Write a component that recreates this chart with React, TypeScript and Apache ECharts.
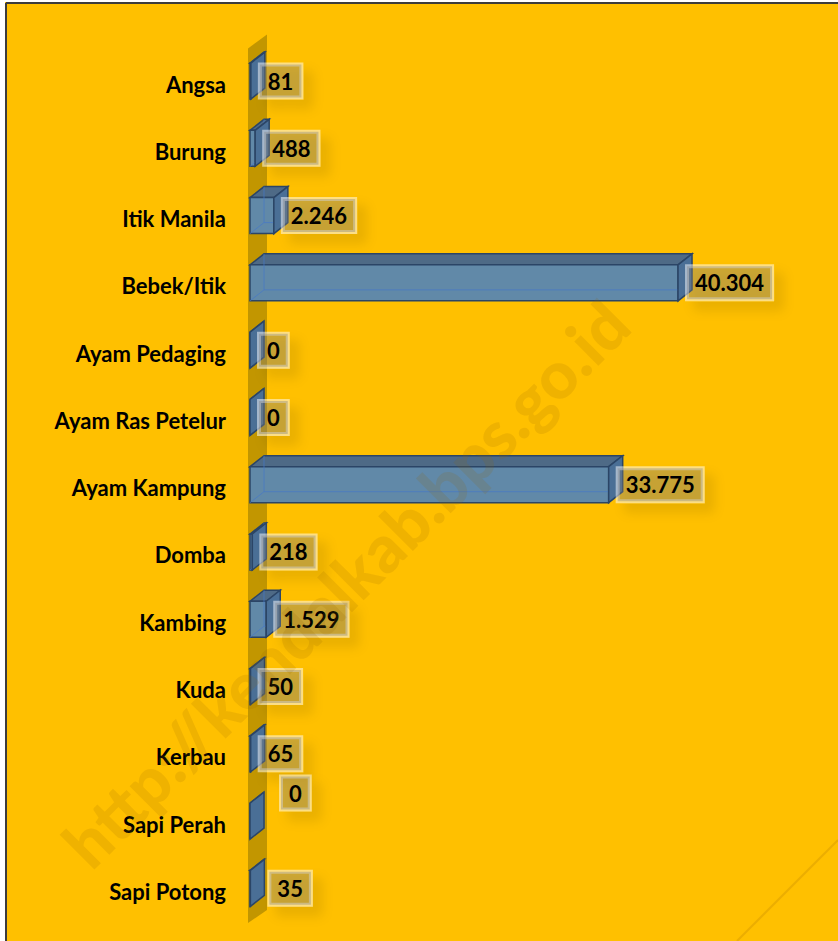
import React, { useEffect, useRef } from "react";
import * as echarts from "echarts";

const categories = [
  "Angsa",
  "Burung",
  "Itik Manila",
  "Bebek/Itik",
  "Ayam Pedaging",
  "Ayam Ras Petelur",
  "Ayam Kampung",
  "Domba",
  "Kambing",
  "Kuda",
  "Kerbau",
  "Sapi Perah",
  "Sapi Potong",
];
const values = [81, 488, 2246, 40304, 0, 0, 33775, 218, 1529, 50, 65, 0, 35];
const watermarkText = "http://kendalkab.bps.go.id";

// style-only nudges for labels that sit away from their bar
const labelNudge: Record<string, [number, number]> = {
  "Sapi Perah": [22, -28],
  "Sapi Potong": [10, 0],
};

const FONT = "Lato, 'Open Sans', sans-serif";

function fmt(v: number): string {
  return String(v).replace(/\B(?=(\d{3})+(?!\d))/g, ".");
}

export default function App() {
  const ref = useRef<HTMLDivElement>(null);
  useEffect(() => {
    if (!ref.current) return;
    const chart = echarts.init(ref.current, undefined, { renderer: "svg" });
    const DX = 14;
    const DY = -11;
    const option: any = {
      animation: false,
      backgroundColor: "#FFC000",
      grid: { left: 250, top: 50.4, width: 531, height: 874.6, containLabel: false },
      xAxis: { type: "value", min: 0, max: 50000, show: false },
      yAxis: {
        type: "category",
        inverse: true,
        data: categories,
        axisLine: { show: false },
        axisTick: { show: false },
        splitLine: { show: false },
        axisLabel: {
          color: "#000",
          fontWeight: "bold",
          fontSize: 22,
          fontFamily: FONT,
          margin: 24,
        },
      },
      series: [
        {
          type: "custom",
          z: 1,
          data: [[0, 0]],
          encode: { x: 0, y: 1 },
          renderItem: (params: any) => {
            const cs = params.coordSys;
            const fx = cs.x - 2;
            const bx = cs.x + 17;
            const top = cs.y;
            const bot = cs.y + cs.height;
            return {
              type: "polygon",
              shape: {
                points: [
                  [fx, top - 2],
                  [bx, top - 16],
                  [bx, bot - 15],
                  [fx, bot - 2],
                ],
              },
              style: { fill: "#C29600" },
            };
          },
        },
        {
          type: "custom",
          z: 2,
          data: values.map((v, i) => [v, i]),
          encode: { x: 0, y: 1 },
          renderItem: (params: any, api: any) => {
            const v = api.value(0);
            const idx = api.value(1);
            const p0 = api.coord([0, idx]);
            const p1 = api.coord([v, idx]);
            const x0 = p0[0];
            const x1 = p1[0];
            const yc = p0[1] - 3;
            const h = 36;
            const t = yc - h / 2;
            const b = yc + h / 2;
            const stroke = "#2B4566";
            const nudge = labelNudge[categories[idx]] || [0, 0];
            const children: any[] = [
              {
                type: "polygon",
                shape: { points: [[x0, t], [x0 + DX, t + DY], [x1 + DX, t + DY], [x1, t]] },
                style: { fill: "#4E6A86", stroke, lineWidth: 1.5 },
              },
              {
                type: "polygon",
                shape: { points: [[x0, t], [x1, t], [x1, b], [x0, b]] },
                style: { fill: "#6189A8", stroke, lineWidth: 1.5 },
              },
              {
                type: "line",
                shape: { x1: x0 + DX, y1: t + DY, x2: x0 + DX, y2: b + DY },
                style: { stroke: "rgba(70,120,200,0.7)", lineWidth: 1 },
              },
              {
                type: "polyline",
                shape: { points: [[x0, b], [x0 + DX, b + DY], [x1 + DX, b + DY]] },
                style: { stroke: "rgba(70,120,200,0.7)", lineWidth: 1, fill: null },
              },
              {
                type: "polygon",
                shape: { points: [[x1, t], [x1 + DX, t + DY], [x1 + DX, b + DY], [x1, b]] },
                style: { fill: "#4A6F96", stroke, lineWidth: 1.5 },
              },
              {
                type: "text",
                x: x1 + 9 + nudge[0],
                y: yc + nudge[1],
                z2: 10,
                style: {
                  text: fmt(v),
                  font: `bold 22px ${FONT}`,
                  fill: "#000",
                  align: "left",
                  textAlign: "left",
                  verticalAlign: "middle",
                  textVerticalAlign: "middle",
                  backgroundColor: "rgba(128,128,128,0.38)",
                  borderColor: "rgba(255,255,255,0.5)",
                  borderWidth: 2,
                  padding: [6, 8, 5, 8],
                  shadowBlur: 12,
                  shadowColor: "rgba(0,0,0,0.2)",
                  shadowOffsetX: 9,
                  shadowOffsetY: 9,
                },
              },
            ];
            return { type: "group", children };
          },
        },
      ],
      graphic: [
        { type: "rect", z: 50, shape: { x: 0, y: 0, width: 5, height: 941 }, style: { fill: "#fff" } },
        { type: "rect", z: 50, shape: { x: 0, y: 0, width: 838, height: 2 }, style: { fill: "#fff" } },
        { type: "line", z: 51, shape: { x1: 6, y1: 3, x2: 838, y2: 3 }, style: { stroke: "#3c3c3c", lineWidth: 2 } },
        { type: "line", z: 51, shape: { x1: 6, y1: 3, x2: 6, y2: 941 }, style: { stroke: "#3c3c3c", lineWidth: 2 } },
        { type: "line", z: 0, shape: { x1: 838, y1: 840, x2: 737, y2: 941 }, style: { stroke: "rgba(200,140,0,0.35)", lineWidth: 2 } },
        {
          type: "text",
          z: 100,
          x: 345,
          y: 583,
          rotation: Math.PI / 4,
          style: {
            text: watermarkText,
            font: `900 66px ${FONT}`,
            fill: "rgba(150,100,0,0.15)",
            align: "center",
            textAlign: "center",
            verticalAlign: "middle",
            textVerticalAlign: "middle",
          },
        },
      ],
    };
    chart.setOption(option);
    return () => chart.dispose();
  }, []);
  return (
    <div
      ref={ref}
      style={{ position: "absolute", left: 0, top: 0, width: 838, height: 941 }}
    />
  );
}
